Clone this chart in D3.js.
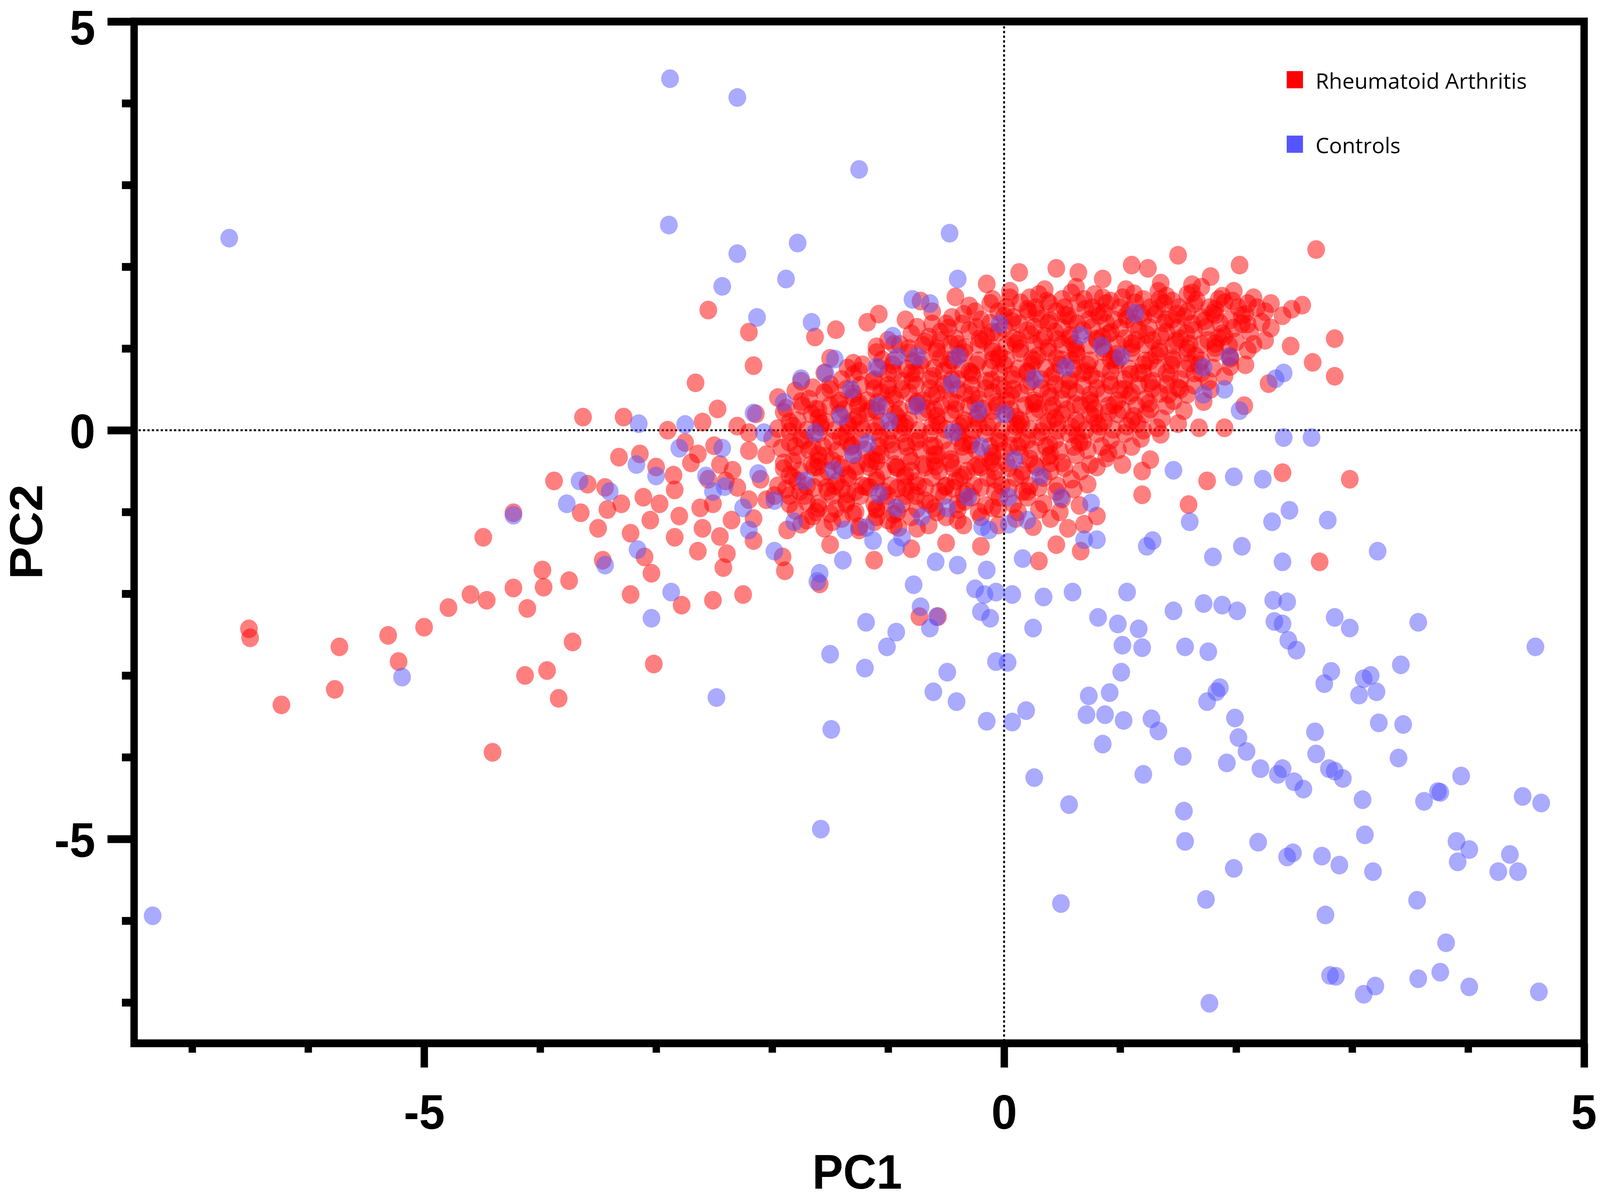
<!DOCTYPE html>
<html>
<head>
<meta charset="utf-8">
<script src="https://cdn.jsdelivr.net/npm/d3@7"></script>
<style>
  html, body { margin: 0; padding: 0; background: #fff; overflow: hidden; }
  svg { display: block; background: #fff; width: 100vw; height: 100vh; }
</style>
</head>
<body>
<svg id="chart"></svg>
<script>
// axis ticks
const majorTicks = [-5, 0, 5];
const minorTicks = [-7, -6, -4, -3, -2, -1, 1, 2, 3, 4];

// legend
const groups = ["Rheumatoid Arthritis", "Controls"];
const groupColors = ["#ff0000", "#5555ff"];

// Rheumatoid Arthritis scores [PC1, PC2]
const raPoints = [
  // top edge of the cluster
  [0.13,1.93],[0.45,1.98],[0.64,1.93],[1.10,2.02],[1.24,1.98],[1.50,2.14],[2.03,2.02],[2.69,2.21],[-0.15,1.79],[0.85,1.85],[1.35,1.80],[1.78,1.88],[1.62,1.78],
  [-0.72,1.58],[-0.42,1.63],[-0.1,1.6],[0.05,1.7],[0.22,1.62],[0.35,1.72],[0.5,1.6],[0.62,1.75],[0.78,1.66],[0.92,1.58],[1.05,1.72],[1.2,1.6],[1.33,1.7],[1.45,1.58],[1.58,1.66],[1.7,1.75],[1.85,1.6],[1.98,1.7],[2.15,1.62],[2.3,1.55],[2.48,1.48],
  [-0.3,1.52],[-0.12,1.55],[0.02,1.5],[0.14,1.56],[0.27,1.5],[0.39,1.55],[0.52,1.5],[0.64,1.56],[0.76,1.5],[0.88,1.55],[1.0,1.5],[1.13,1.56],[1.26,1.5],[1.38,1.55],[1.51,1.5],[1.64,1.55],[1.77,1.5],[1.9,1.56],[2.02,1.5],[2.18,1.5],
  [-1.18,1.32],[-1.08,1.42],[-0.85,1.35],[-0.62,1.45],[-0.5,1.3],[-0.35,1.42],[-0.2,1.35],[-0.05,1.45],[0.08,1.38],[0.2,1.48],[0.32,1.36],[0.45,1.45],[0.58,1.35],[0.7,1.48],[0.82,1.4],[0.95,1.35],[1.08,1.46],[1.2,1.38],[1.32,1.48],[1.45,1.36],[1.58,1.45],[1.7,1.38],[1.82,1.48],[1.95,1.35],[2.08,1.42],[2.22,1.32],[2.4,1.4],
  [-0.75,1.26],[-0.62,1.3],[-0.48,1.25],[-0.36,1.3],[-0.24,1.26],[-0.12,1.31],[0.0,1.25],[0.13,1.3],[0.26,1.26],[0.38,1.31],[0.5,1.25],[0.63,1.3],[0.76,1.26],[0.88,1.31],[1.0,1.25],[1.12,1.3],[1.25,1.26],[1.38,1.31],[1.5,1.25],[1.62,1.3],[1.74,1.26],[1.86,1.31],[1.98,1.25],[2.1,1.3],[2.3,1.25],
  [-1.63,1.14],[-1.45,1.23],[-1.0,1.1],[-0.8,1.18],[-0.68,1.08],[-0.55,1.2],[-0.42,1.12],[-0.3,1.22],[-0.18,1.1],[-0.05,1.2],[0.08,1.12],[0.2,1.22],[0.32,1.1],[0.44,1.2],[0.56,1.12],[0.68,1.22],[0.8,1.1],[0.92,1.2],[1.04,1.12],[1.16,1.22],[1.28,1.1],[1.4,1.2],[1.52,1.12],[1.64,1.22],[1.76,1.1],[1.88,1.18],[2.0,1.08],[2.12,1.2],[2.25,1.1],[2.47,1.03],[2.85,1.12],
  [-1.1,1.02],[-0.95,1.05],[-0.82,1.0],[-0.7,1.04],[-0.58,1.0],[-0.46,1.05],[-0.34,1.01],[-0.22,1.05],[-0.1,1.0],[0.02,1.04],[0.14,1.0],[0.26,1.05],[0.38,1.01],[0.5,1.05],[0.62,1.0],[0.74,1.04],[0.86,1.0],[0.98,1.05],[1.1,1.01],[1.22,1.05],[1.34,1.0],[1.46,1.04],[1.58,1.0],[1.7,1.05],[1.82,1.01],[1.94,1.04],[2.1,0.98],
  // middle band
  [-2.16,0.79],[-1.5,0.88],[-1.3,0.82],[-1.1,0.95],[-0.95,0.85],[-0.82,0.95],[-0.7,0.86],[-0.58,0.96],[-0.46,0.86],[-0.34,0.95],[-0.22,0.85],[-0.1,0.96],[0.02,0.86],[0.14,0.95],[0.26,0.85],[0.38,0.96],[0.5,0.86],[0.62,0.95],[0.74,0.85],[0.86,0.96],[0.98,0.86],[1.1,0.95],[1.22,0.85],[1.34,0.96],[1.46,0.86],[1.58,0.95],[1.7,0.85],[1.82,0.95],[1.95,0.88],[2.08,0.8],[2.28,0.57],[2.66,0.83],
  [-1.35,0.76],[-1.22,0.8],[-1.08,0.76],[-0.96,0.8],[-0.84,0.75],[-0.72,0.8],[-0.6,0.76],[-0.48,0.8],[-0.36,0.75],[-0.24,0.8],[-0.12,0.76],[0.0,0.8],[0.12,0.75],[0.24,0.8],[0.36,0.76],[0.48,0.8],[0.6,0.75],[0.72,0.8],[0.84,0.76],[0.96,0.8],[1.08,0.75],[1.2,0.8],[1.32,0.76],[1.44,0.8],[1.56,0.75],[1.68,0.8],[1.8,0.76],[1.95,0.78],
  [-2.66,0.58],[-1.75,0.6],[-1.55,0.7],[-1.4,0.62],[-1.25,0.72],[-1.12,0.62],[-1.0,0.7],[-0.88,0.6],[-0.76,0.7],[-0.64,0.62],[-0.52,0.72],[-0.4,0.62],[-0.28,0.7],[-0.16,0.6],[-0.04,0.7],[0.08,0.62],[0.2,0.72],[0.32,0.62],[0.44,0.7],[0.56,0.6],[0.68,0.7],[0.8,0.62],[0.92,0.72],[1.04,0.62],[1.16,0.7],[1.28,0.6],[1.4,0.7],[1.52,0.62],[1.64,0.7],[1.76,0.6],[1.9,0.66],[2.85,0.66],
  [-1.65,0.52],[-1.5,0.56],[-1.36,0.5],[-1.24,0.55],[-1.12,0.51],[-1.0,0.55],[-0.88,0.5],[-0.76,0.55],[-0.64,0.51],[-0.52,0.56],[-0.4,0.5],[-0.28,0.55],[-0.16,0.51],[-0.04,0.55],[0.08,0.5],[0.2,0.55],[0.32,0.51],[0.44,0.56],[0.56,0.5],[0.68,0.55],[0.8,0.51],[0.92,0.55],[1.04,0.5],[1.16,0.55],[1.28,0.51],[1.4,0.56],[1.52,0.5],[1.64,0.55],[1.78,0.5],
  [-1.95,0.4],[-1.8,0.48],[-1.68,0.38],[-1.55,0.46],[-1.42,0.36],[-1.3,0.45],[-1.18,0.36],[-1.06,0.46],[-0.94,0.38],[-0.82,0.46],[-0.7,0.36],[-0.58,0.45],[-0.46,0.36],[-0.34,0.46],[-0.22,0.38],[-0.1,0.46],[0.02,0.36],[0.14,0.45],[0.26,0.36],[0.38,0.46],[0.5,0.38],[0.62,0.46],[0.74,0.36],[0.86,0.45],[0.98,0.36],[1.1,0.46],[1.22,0.38],[1.34,0.45],[1.46,0.36],[1.58,0.44],[1.72,0.35],[2.07,0.3],
  [-1.88,0.27],[-1.74,0.3],[-1.62,0.26],[-1.5,0.3],[-1.38,0.25],[-1.26,0.3],[-1.14,0.26],[-1.02,0.3],[-0.9,0.25],[-0.78,0.3],[-0.66,0.26],[-0.54,0.3],[-0.42,0.25],[-0.3,0.3],[-0.18,0.26],[-0.06,0.3],[0.06,0.25],[0.18,0.3],[0.3,0.26],[0.42,0.3],[0.54,0.25],[0.66,0.3],[0.78,0.26],[0.9,0.3],[1.02,0.25],[1.14,0.3],[1.26,0.26],[1.4,0.3],[1.55,0.24],
  [-3.28,0.16],[-3.63,0.16],[-2.47,0.26],[-2.14,0.2],[-1.9,0.22],[-1.78,0.12],[-1.66,0.2],[-1.54,0.1],[-1.42,0.2],[-1.3,0.12],[-1.18,0.22],[-1.06,0.1],[-0.94,0.2],[-0.82,0.12],[-0.7,0.22],[-0.58,0.1],[-0.46,0.2],[-0.34,0.12],[-0.22,0.2],[-0.1,0.1],[0.02,0.2],[0.14,0.12],[0.26,0.22],[0.38,0.1],[0.5,0.2],[0.62,0.12],[0.74,0.2],[0.86,0.1],[0.98,0.2],[1.1,0.12],[1.22,0.2],[1.36,0.14],[1.5,0.08],[1.68,0.03],[1.9,0.03],
  [-1.95,0.02],[-1.82,0.05],[-1.7,0.0],[-1.58,0.04],[-1.46,0.0],[-1.34,0.05],[-1.22,0.01],[-1.1,0.05],[-0.98,0.0],[-0.86,0.04],[-0.74,0.0],[-0.62,0.05],[-0.5,0.01],[-0.38,0.05],[-0.26,0.0],[-0.14,0.04],[-0.02,0.0],[0.1,0.05],[0.22,0.01],[0.34,0.05],[0.46,0.0],[0.58,0.04],[0.7,0.0],[0.82,0.05],[0.94,0.01],[1.06,0.05],[1.2,0.0],[1.32,0.03],
  // lower band
  [-2.5,-0.19],[-2.2,-0.03],[-2.0,-0.1],[-1.85,-0.02],[-1.72,-0.12],[-1.6,-0.04],[-1.48,-0.14],[-1.36,-0.04],[-1.24,-0.12],[-1.12,-0.02],[-1.0,-0.12],[-0.88,-0.04],[-0.76,-0.14],[-0.64,-0.04],[-0.52,-0.12],[-0.4,-0.02],[-0.28,-0.12],[-0.16,-0.04],[-0.04,-0.14],[0.08,-0.04],[0.2,-0.12],[0.32,-0.02],[0.44,-0.12],[0.56,-0.04],[0.68,-0.14],[0.8,-0.04],[0.92,-0.12],[1.04,-0.04],[1.18,-0.1],[1.35,-0.05],
  [-1.92,-0.22],[-1.8,-0.2],[-1.68,-0.24],[-1.56,-0.2],[-1.44,-0.25],[-1.32,-0.2],[-1.2,-0.24],[-1.08,-0.2],[-0.96,-0.25],[-0.84,-0.2],[-0.72,-0.24],[-0.6,-0.2],[-0.48,-0.25],[-0.36,-0.2],[-0.24,-0.24],[-0.12,-0.2],[0.0,-0.25],[0.12,-0.2],[0.24,-0.24],[0.36,-0.2],[0.48,-0.25],[0.6,-0.2],[0.72,-0.24],[0.84,-0.2],[0.98,-0.24],[1.1,-0.2],
  [-3.32,-0.33],[-3.14,-0.29],[-2.64,-0.29],[-2.34,-0.49],[-2.05,-0.3],[-1.9,-0.4],[-1.78,-0.3],[-1.66,-0.42],[-1.54,-0.32],[-1.42,-0.42],[-1.3,-0.3],[-1.18,-0.4],[-1.06,-0.3],[-0.94,-0.42],[-0.82,-0.32],[-0.7,-0.42],[-0.58,-0.3],[-0.46,-0.4],[-0.34,-0.3],[-0.22,-0.42],[-0.1,-0.32],[0.02,-0.4],[0.14,-0.3],[0.26,-0.42],[0.38,-0.32],[0.5,-0.4],[0.62,-0.3],[0.74,-0.42],[0.88,-0.34],[1.02,-0.42],[1.26,-0.36],[1.19,-0.5],
  [-1.9,-0.47],[-1.76,-0.5],[-1.64,-0.45],[-1.52,-0.5],[-1.4,-0.46],[-1.28,-0.5],[-1.16,-0.45],[-1.04,-0.5],[-0.92,-0.46],[-0.8,-0.5],[-0.68,-0.45],[-0.56,-0.5],[-0.44,-0.46],[-0.32,-0.5],[-0.2,-0.45],[-0.08,-0.5],[0.04,-0.46],[0.16,-0.5],[0.28,-0.45],[0.4,-0.5],[0.52,-0.46],[0.66,-0.5],[0.8,-0.45],
  [-3.88,-0.62],[-3.59,-0.66],[-3.44,-0.7],[-2.84,-0.73],[-2.4,-0.62],[-2.1,-0.6],[-1.95,-0.68],[-1.82,-0.58],[-1.7,-0.68],[-1.58,-0.58],[-1.46,-0.68],[-1.34,-0.58],[-1.22,-0.68],[-1.1,-0.58],[-0.98,-0.68],[-0.86,-0.58],[-0.74,-0.68],[-0.62,-0.58],[-0.5,-0.68],[-0.38,-0.58],[-0.26,-0.68],[-0.14,-0.58],[-0.02,-0.68],[0.1,-0.58],[0.22,-0.68],[0.34,-0.58],[0.46,-0.68],[0.58,-0.6],[0.72,-0.66],[1.75,-0.62],
  [-1.88,-0.72],[-1.76,-0.75],[-1.64,-0.7],[-1.52,-0.75],[-1.4,-0.71],[-1.28,-0.75],[-1.16,-0.7],[-1.04,-0.75],[-0.92,-0.71],[-0.8,-0.75],[-0.68,-0.7],[-0.56,-0.75],[-0.44,-0.71],[-0.32,-0.75],[-0.2,-0.7],[-0.08,-0.75],[0.04,-0.71],[0.16,-0.75],[0.3,-0.7],[0.45,-0.75],[0.6,-0.72],
  [-3.65,-1.01],[-3.42,-0.97],[-3.11,-0.82],[-2.97,-0.9],[-2.62,-0.95],[-2.51,-0.9],[-2.2,-0.85],[-1.98,-0.8],[-1.85,-0.9],[-1.72,-0.8],[-1.6,-0.9],[-1.48,-0.8],[-1.36,-0.9],[-1.24,-0.8],[-1.12,-0.9],[-1.0,-0.8],[-0.88,-0.9],[-0.76,-0.8],[-0.64,-0.9],[-0.52,-0.8],[-0.4,-0.9],[-0.28,-0.82],[-0.16,-0.92],[-0.04,-0.82],[0.08,-0.9],[0.2,-0.82],[0.34,-0.9],[0.5,-0.84],[0.65,-0.92],[1.19,-0.79],[1.59,-0.91],
  [-1.8,-0.98],[-1.62,-1.0],[-1.45,-0.96],[-1.28,-1.0],[-1.1,-0.97],[-0.92,-1.0],[-0.75,-0.96],[-0.58,-1.0],[-0.4,-0.97],[-0.22,-1.0],[-0.05,-0.96],[0.12,-1.0],[0.3,-0.97],[0.48,-1.0],
  [-4.23,-1.01],[-3.46,-1.59],[-3.22,-1.26],[-2.84,-1.31],[-2.16,-1.08],[-1.87,-1.22],[-1.7,-1.1],[-1.55,-1.2],[-1.4,-1.08],[-1.25,-1.18],[-1.1,-1.06],[-0.95,-1.16],[-0.91,-1.19],[-0.8,-1.06],[-0.65,-1.16],[-0.5,-1.06],[-0.35,-1.16],[-0.2,-1.06],[-0.05,-1.16],[0.1,-1.08],[0.25,-1.18],[0.4,-1.08],[0.55,-1.2],[0.69,-1.15],[0.8,-1.05],
  [-2.64,-1.48],[-2.39,-1.51],[-2.16,-1.35],[-1.91,-1.55],[-1.5,-1.4],[-1.12,-1.59],[-0.8,-1.45],[-0.5,-1.38],[-0.2,-1.42],[0.3,-1.6],[0.66,-1.48],[0.45,-1.4],
  // extra overlap in the saturated core
  [0.05,1.62],[0.21,1.45],[0.37,1.58],[0.53,1.41],[0.69,1.6],[0.86,1.44],[1.02,1.62],[1.18,1.43],[1.34,1.6],[1.49,1.42],[1.66,1.59],[1.82,1.41],[1.97,1.58],
  [-0.1,1.2],[0.07,1.33],[0.23,1.17],[0.4,1.34],[0.57,1.16],[0.73,1.35],[0.9,1.18],[1.06,1.36],[1.23,1.17],[1.4,1.35],[1.57,1.18],[1.73,1.34],[1.9,1.15],[2.05,1.3],
  [-0.55,1.1],[-0.38,0.93],[-0.21,1.12],[-0.04,0.92],[0.12,1.1],[0.29,0.91],[0.46,1.11],[0.63,0.92],[0.8,1.12],[0.97,0.93],[1.14,1.1],[1.31,0.92],[1.48,1.09],[1.65,0.91],[1.82,1.06],
  [-0.95,0.7],[-0.78,0.84],[-0.61,0.66],[-0.44,0.85],[-0.27,0.67],[-0.1,0.86],[0.07,0.68],[0.24,0.87],[0.41,0.66],[0.58,0.85],[0.75,0.67],[0.92,0.86],[1.09,0.68],[1.26,0.85],[1.43,0.66],[1.6,0.82],
  [-1.3,0.4],[-1.13,0.6],[-0.96,0.43],[-0.79,0.61],[-0.62,0.42],[-0.45,0.62],[-0.28,0.43],[-0.11,0.61],[0.06,0.42],[0.23,0.6],[0.4,0.41],[0.57,0.62],[0.74,0.43],[0.91,0.6],[1.08,0.42],[1.25,0.58],[1.42,0.44],
  [-1.6,0.15],[-1.43,0.33],[-1.26,0.17],[-1.09,0.34],[-0.92,0.16],[-0.75,0.35],[-0.58,0.17],[-0.41,0.33],[-0.24,0.15],[-0.07,0.34],[0.1,0.16],[0.27,0.33],[0.44,0.15],[0.61,0.32],[0.78,0.16],[0.95,0.31],[1.12,0.17],
  [-1.75,-0.1],[-1.58,0.08],[-1.41,-0.08],[-1.24,0.09],[-1.07,-0.09],[-0.9,0.08],[-0.73,-0.1],[-0.56,0.07],[-0.39,-0.09],[-0.22,0.08],[-0.05,-0.1],[0.12,0.07],[0.29,-0.08],[0.46,0.09],[0.63,-0.07],[0.8,0.08],
  [-1.82,-0.38],[-1.65,-0.2],[-1.48,-0.37],[-1.31,-0.18],[-1.14,-0.36],[-0.97,-0.17],[-0.8,-0.38],[-0.63,-0.19],[-0.46,-0.36],[-0.29,-0.18],[-0.12,-0.37],[0.05,-0.19],[0.22,-0.35],[0.39,-0.18],
  [-1.78,-0.62],[-1.61,-0.45],[-1.44,-0.63],[-1.27,-0.44],[-1.1,-0.62],[-0.93,-0.45],[-0.76,-0.63],[-0.59,-0.44],[-0.42,-0.62],[-0.25,-0.45],[-0.08,-0.6],
  [-1.7,-0.88],[-1.53,-0.7],[-1.36,-0.87],[-1.19,-0.69],[-1.02,-0.88],[-0.85,-0.7],[-0.68,-0.86],[-0.51,-0.69],[-0.34,-0.87],
  [-1.65,-1.05],[-1.48,-1.12],[-1.3,-1.02],[-1.12,-1.12],[-0.95,-1.03],
  [0.3,1.66],[0.58,1.68],[0.85,1.62],[1.12,1.67],[1.4,1.64],[1.62,1.68],[1.88,1.64],[2.1,1.55],
  [-0.45,1.38],[-0.25,1.45],[0.0,1.4],[0.28,1.43],[0.55,1.4],[0.8,1.45],[1.05,1.4],[1.3,1.42],[1.55,1.39],[1.8,1.43],[2.05,1.4],[2.25,1.45],
  [-0.9,1.05],[-0.65,1.14],[-0.4,1.05],[-0.15,1.15],[0.1,1.06],[0.35,1.15],[0.6,1.05],[0.85,1.14],[1.1,1.06],[1.35,1.15],[1.6,1.05],[1.85,1.13],[2.15,1.05],
  [-1.3,0.68],[-1.05,0.86],[-0.8,0.7],[-0.55,0.88],[-0.3,0.72],[-0.05,0.88],[0.2,0.7],[0.45,0.88],[0.7,0.72],[0.95,0.88],[1.2,0.7],[1.45,0.88],[1.7,0.7],[1.95,0.9],
  [-1.75,0.35],[-1.5,0.5],[-1.25,0.33],[-1.0,0.5],[-0.75,0.33],[-0.5,0.5],[-0.25,0.33],[0.0,0.5],[0.25,0.33],[0.5,0.5],[0.75,0.33],[1.0,0.5],[1.25,0.33],[1.5,0.52],
  [-1.85,0.1],[-1.6,0.25],[-1.35,0.08],[-1.1,0.24],[-0.85,0.08],[-0.6,0.25],[-0.35,0.08],[-0.1,0.24],[0.15,0.08],[0.4,0.25],[0.65,0.08],[0.9,0.22],[1.15,0.08],
  [-1.85,-0.15],[-1.6,-0.3],[-1.35,-0.14],[-1.1,-0.3],[-0.85,-0.15],[-0.6,-0.3],[-0.35,-0.15],[-0.1,-0.28],[0.15,-0.14],[0.4,-0.3],[0.65,-0.15],[0.9,-0.28],
  [-1.85,-0.55],[-1.6,-0.38],[-1.35,-0.55],[-1.1,-0.38],[-0.85,-0.55],[-0.6,-0.38],[-0.35,-0.55],[-0.1,-0.4],[0.15,-0.55],[0.4,-0.4],
  [-1.85,-0.8],[-1.6,-0.95],[-1.35,-0.78],[-1.1,-0.95],[-0.85,-0.8],[-0.6,-0.95],[-0.35,-0.78],[-0.1,-0.95],[0.2,-0.75],
  [-1.75,-1.15],[-1.5,-1.02],[-1.25,-1.22],[-1.0,-1.1],[-0.75,-1.2],[-0.4,-1.1],
  // scattered, left of the cluster
  [-3.0,-0.45],[-2.85,-0.55],[-2.7,-0.4],[-2.55,-0.6],[-2.45,-0.42],[-2.3,-0.7],[-2.2,-0.25],[-2.05,-0.85],[-2.8,-1.05],[-2.6,-1.2],[-2.35,-1.1],[-2.9,0.0],[-2.6,0.1],[-2.3,0.05],[-2.75,-0.15],[-3.05,-1.1],[-3.3,-0.9],[-3.5,-1.2],[-3.1,-1.55],[-2.45,-1.3],
  // outliers and tail
  [-6.51,-2.43],[-6.50,-2.54],[-6.23,-3.36],[-5.77,-3.17],[-5.73,-2.65],[-5.31,-2.51],[-5.22,-2.83],[-5.00,-2.41],[-4.79,-2.17],[-4.60,-2.01],[-4.49,-1.31],[-4.46,-2.08],[-4.41,-3.94],[-4.23,-1.93],[-4.11,-2.18],[-4.13,-3.00],[-3.98,-1.71],[-3.97,-1.92],[-3.94,-2.94],[-3.84,-3.28],[-3.75,-1.84],[-3.72,-2.59],[-3.22,-2.01],[-3.04,-1.75],[-3.02,-2.86],[-2.78,-2.14],[-2.55,1.47],[-2.51,-2.08],[-2.42,-1.68],[-2.25,-2.01],[-2.20,1.20],[-1.89,-1.72],[-1.59,-1.88],[-0.73,-2.28],[-0.57,-2.28],[2.40,-0.52],[2.98,-0.60],[2.72,-1.61],[2.57,1.53]
];

// Control scores [PC1, PC2]
const ctrlPoints = [
  // upper left
  [-6.68,2.35],[-7.34,-5.94],[-2.88,4.30],[-2.30,4.07],[-1.25,3.19],[-2.89,2.51],[-0.47,2.41],[-1.78,2.29],[-2.30,2.16],[-2.43,1.76],[-1.88,1.85],[-2.13,1.38],[-1.66,1.32],[-0.79,1.60],[-0.64,1.55],[-0.40,1.85],[-0.96,1.15],[-1.46,0.87],[-1.75,0.63],
  [-3.15,0.08],[-2.75,0.07],[-2.80,-0.22],[-3.17,-0.42],[-3.00,-0.56],[-3.66,-0.62],[-3.40,-0.75],[-3.77,-0.90],[-4.23,-1.04],[-3.44,-1.65],[-3.16,-1.46],[-3.04,-2.30],[-2.87,-1.98],[-5.19,-3.02],[-2.48,-3.27],[-1.49,-3.66],[-1.58,-4.88],[0.49,-5.79],[1.77,-7.01],
  // inside the RA cluster
  [-0.45,0.57],[-0.22,0.24],[0.0,0.2],[-0.75,0.3],[-0.99,0.11],[-1.18,-0.16],[-1.3,-0.29],[-1.47,-0.49],[-1.72,-0.62],[-1.98,-0.86],[-1.81,-1.12],[-2.25,-0.95],[-2.41,-0.69],[-2.12,-0.53],[-1.63,-0.03],[-1.41,0.17],[-1.08,0.3],[-0.44,-0.03],[-0.2,-0.2],[0.09,-0.36],[0.31,-0.56],[0.49,-0.82],[0.75,-0.89],[-0.31,-0.82],[-0.49,-0.95],[-0.71,-1.06],[-0.93,-0.95],[-1.08,-0.78],[-1.19,-1.19],[-0.19,-1.18],[0.04,-0.82],
  [0.26,0.63],[0.53,0.77],[0.66,1.16],[0.84,1.03],[1.01,0.9],[1.13,1.43],[1.94,0.9],[1.72,0.77],[1.9,0.5],[1.72,0.44],[2.34,0.63],[2.41,0.7],[2.03,0.24],[-0.4,0.9],[-0.04,1.3],[-0.75,0.9],[-0.92,0.9],[-1.1,0.77],[-1.32,0.5],[-1.54,0.7],[-1.9,0.34],[-2.16,0.21],[-2.07,-0.03],[-2.43,-0.22],[-2.57,-0.56],[-2.51,-0.75],[-1.98,-1.48],[-2.2,-1.22],[-1.37,-1.22],
  // below the cluster
  [-1.39,-1.59],[-1.13,-1.35],[-0.93,-1.43],[-0.88,-1.31],[-0.59,-1.61],[-0.40,-1.65],[-0.15,-1.71],[-0.25,-1.94],[-0.17,-2.01],[-0.07,-1.98],[0.07,-2.01],[0.16,-1.57],[0.34,-2.04],[0.59,-1.98],[-0.78,-1.89],[-0.72,-2.16],[-0.58,-2.28],[-0.20,-2.22],[-0.12,-2.30],[-1.19,-2.35],[-0.93,-2.47],[-1.01,-2.65],[-1.20,-2.91],[-1.50,-2.74],[-0.64,-2.42],[0.25,-2.42],[-0.07,-2.83],[0.03,-2.84],[-0.49,-2.96],[-0.61,-3.20],[-0.41,-3.32],[0.19,-3.43],[-0.15,-3.56],[0.07,-3.57],[0.26,-4.25],[0.56,-4.58],[-1.61,-1.85],[-1.59,-1.75],[0.20,-1.10],[-0.13,-1.22],[0.04,-1.15],[0.69,-1.34],[0.80,-1.34],[1.28,-1.35],
  // lower right
  [1.98,-0.57],[2.23,-0.60],[1.46,-0.49],[2.41,-0.09],[2.65,-0.09],[1.60,-1.12],[2.05,-1.42],[2.31,-1.12],[2.46,-0.98],[2.79,-1.10],[1.23,-1.42],[1.80,-1.55],[2.40,-1.61],[3.22,-1.48],[1.06,-1.98],[1.46,-2.21],[1.72,-2.12],[1.88,-2.14],[2.01,-2.21],[2.32,-2.08],[2.44,-2.10],[2.33,-2.34],[2.40,-2.37],[2.85,-2.29],[2.98,-2.42],[3.57,-2.35],[0.81,-2.29],[0.98,-2.37],[1.16,-2.43],[1.02,-2.63],[1.19,-2.66],[1.56,-2.65],[1.76,-2.71],[2.45,-2.57],[2.52,-2.69],[1.01,-2.96],[2.82,-2.95],[3.10,-3.04],[3.16,-3.00],[3.21,-3.20],[3.06,-3.24],[3.42,-2.87],[2.76,-3.10],[1.86,-3.15],[1.83,-3.20],[1.75,-3.32],
  [0.73,-3.25],[0.91,-3.21],[0.71,-3.48],[0.87,-3.48],[0.85,-3.84],[1.03,-3.55],[1.27,-3.53],[1.33,-3.68],[1.20,-4.21],[1.54,-3.99],[1.55,-4.66],[1.56,-5.03],[1.74,-5.74],[1.99,-3.52],[2.02,-3.76],[2.09,-3.93],[1.92,-4.07],[2.21,-4.14],[2.36,-4.21],[2.40,-4.14],[2.50,-4.30],[2.58,-4.39],[2.68,-3.69],[2.69,-3.96],[2.80,-4.14],[2.85,-4.17],[2.92,-4.26],[3.09,-4.52],[3.23,-3.58],[3.44,-3.60],[3.40,-4.01],[3.62,-4.54],[3.74,-4.42],[3.76,-4.43],[3.94,-4.23],
  [3.11,-4.95],[3.90,-5.03],[4.01,-5.13],[3.91,-5.28],[2.19,-5.04],[2.44,-5.22],[2.49,-5.17],[2.74,-5.21],[2.89,-5.32],[3.18,-5.40],[1.98,-5.36],[2.77,-5.93],[3.56,-5.75],[3.81,-6.27],[2.81,-6.67],[2.86,-6.68],[3.10,-6.90],[3.20,-6.80],[3.57,-6.71],[3.76,-6.63],[4.01,-6.81],[4.61,-6.87],[4.26,-5.40],[4.36,-5.19],[4.43,-5.40],[4.47,-4.48],[4.63,-4.56],[4.58,-2.65]
];

const width = 4331, height = 3071;
const axisFont = "'Liberation Sans', Arial, Helvetica, sans-serif";

// drawn in a fixed 4331x3071 coordinate space, stretched to the window
const svg = d3.select("#chart")
  .attr("viewBox", `0 0 ${width} ${height}`)
  .attr("preserveAspectRatio", "none");

const x = d3.scaleLinear().domain([-7.5, 5]).range([363, 4288]);
const y = d3.scaleLinear().domain([-7.5, 5]).range([2670, 55]);

// dotted zero lines, under the points
svg.append("line")
  .attr("x1", x(0)).attr("x2", x(0))
  .attr("y1", y(5)).attr("y2", y(-7.5))
  .attr("stroke", "#000").attr("stroke-width", 5).attr("stroke-dasharray", "6,6");
svg.append("line")
  .attr("x1", x(-7.5)).attr("x2", x(5))
  .attr("y1", y(0)).attr("y2", y(0))
  .attr("stroke", "#000").attr("stroke-width", 5).attr("stroke-dasharray", "6,6");

// points: RA first, controls on top
const series = [raPoints, ctrlPoints];
series.forEach((pts, i) => {
  svg.append("g")
    .selectAll("circle")
    .data(pts)
    .join("circle")
    .attr("cx", d => x(d[0]))
    .attr("cy", d => y(d[1]))
    .attr("r", 24)
    .attr("fill", groupColors[i])
    .attr("fill-opacity", 0.5);
});

// frame
svg.append("rect")
  .attr("x", x(-7.5)).attr("y", y(5))
  .attr("width", x(5) - x(-7.5)).attr("height", y(-7.5) - y(5))
  .attr("fill", "none").attr("stroke", "#000").attr("stroke-width", 20);

function styleAxis(g) {
  g.select(".domain").remove();
  g.selectAll(".tick line").attr("stroke", "#000").attr("stroke-width", 20);
  g.selectAll(".tick text")
    .attr("font-family", axisFont)
    .attr("font-weight", "bold")
    .attr("font-size", 125)
    .attr("fill", "#000");
}

// y axis
svg.append("g")
  .attr("transform", `translate(${x(-7.5)},0)`)
  .call(d3.axisLeft(y).tickValues(minorTicks).tickSize(33).tickFormat(""))
  .call(styleAxis);
svg.append("g")
  .attr("transform", `translate(${x(-7.5)},0)`)
  .call(d3.axisLeft(y).tickValues(majorTicks).tickSize(72).tickPadding(33).tickFormat(d => String(d)))
  .call(styleAxis)
  .call(g => g.selectAll(".tick text").attr("dy", d => d === 5 ? "0.47em" : "0.36em"));

// x axis
svg.append("g")
  .attr("transform", `translate(0,${y(-7.5)})`)
  .call(d3.axisBottom(x).tickValues(minorTicks).tickSize(24).tickFormat(""))
  .call(styleAxis);
svg.append("g")
  .attr("transform", `translate(0,${y(-7.5)})`)
  .call(d3.axisBottom(x).tickValues(majorTicks).tickSize(62).tickPadding(68).tickFormat(d => String(d)))
  .call(styleAxis)
  .call(g => g.selectAll(".tick text").attr("text-anchor", d => d === 5 ? "end" : "middle").attr("dx", d => d === 5 ? "0.27em" : 0));

// axis titles
svg.append("text")
  .attr("x", (x(-7.5) + x(5)) / 2 - 5).attr("y", 3042)
  .attr("text-anchor", "middle")
  .attr("font-family", axisFont).attr("font-weight", "bold").attr("font-size", 125)
  .text("PC1");
svg.append("text")
  .attr("transform", "translate(114,1361) rotate(-90)")
  .attr("text-anchor", "middle")
  .attr("font-family", axisFont).attr("font-weight", "bold").attr("font-size", 125)
  .text("PC2");

// legend
const legendWidths = [572, 230];
const legend = svg.append("g");
groups.forEach((name, i) => {
  const top = 182 + i * 165;
  legend.append("rect")
    .attr("x", 3483).attr("y", top)
    .attr("width", 44).attr("height", 44)
    .attr("fill", groupColors[i]);
  legend.append("text")
    .attr("x", 3561).attr("y", top + 45)
    .attr("font-family", "'Open Sans', 'Noto Sans', sans-serif")
    .attr("font-size", 55)
    .attr("textLength", legendWidths[i])
    .attr("lengthAdjust", "spacingAndGlyphs")
    .attr("fill", "#000")
    .text(name);
});
</script>
</body>
</html>
